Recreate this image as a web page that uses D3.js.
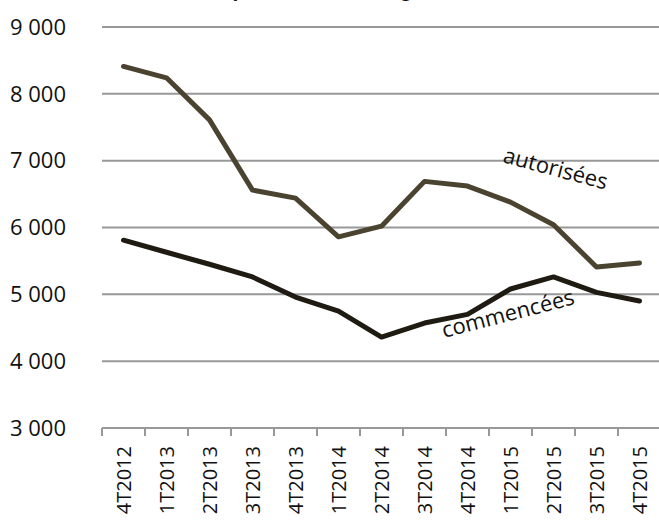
<!DOCTYPE html>
<meta charset="utf-8">
<style>
body { margin: 0; background: #fff; }
text { font-family: "Open Sans", "Noto Sans", sans-serif; fill: #111; }
</style>
<body>
<div id="chart"></div>
<script src="https://d3js.org/d3.v7.min.js"></script>
<script>
var quarters = ["4T2012", "1T2013", "2T2013", "3T2013", "4T2013", "1T2014", "2T2014",
                "3T2014", "4T2014", "1T2015", "2T2015", "3T2015", "4T2015"];
var autorisees = [8410, 8240, 7610, 6560, 6440, 5860, 6020, 6690, 6620, 6380, 6040, 5410, 5470];
var commencees = [5810, 5630, 5450, 5260, 4960, 4750, 4360, 4570, 4700, 5080, 5260, 5030, 4900];
var yTicks = [3000, 4000, 5000, 6000, 7000, 8000, 9000];

var width = 659, height = 523;

var svg = d3.select("#chart").append("svg")
    .attr("width", width)
    .attr("height", height);

var x = d3.scaleBand()
    .domain(quarters)
    .range([102, 661]);

var y = d3.scaleLinear()
    .domain([3000, 9000])
    .range([428, 27]);

var fmt = function(d) { return d3.format(",")(d).replace(",", " "); };

// title, mostly cut off at the top edge
svg.append("text")
    .attr("x", 132)
    .attr("y", -3)
    .style("font-size", "18px")
    .text("Nombre moyen trimestriel de logements");

// gridlines
svg.selectAll(".grid")
    .data(yTicks.filter(function(d) { return d > 3000; }))
  .enter().append("line")
    .attr("x1", 102)
    .attr("x2", width)
    .attr("y1", function(d) { return y(d); })
    .attr("y2", function(d) { return y(d); })
    .attr("stroke", "#989898")
    .attr("stroke-width", 2);

// y labels
svg.selectAll(".ylab")
    .data(yTicks)
  .enter().append("text")
    .attr("x", 66)
    .attr("y", function(d) { return y(d); })
    .attr("dy", "0.35em")
    .attr("text-anchor", "end")
    .style("font-size", "22px")
    .text(fmt);

// x axis
var xAxis = svg.append("g")
    .attr("transform", "translate(0," + y(3000) + ")");
xAxis.append("line")
    .attr("x1", 102).attr("x2", width)
    .attr("stroke", "#989898").attr("stroke-width", 2);
xAxis.selectAll(".tick")
    .data(quarters)
  .enter().append("line")
    .attr("x1", function(d) { return x(d); })
    .attr("x2", function(d) { return x(d); })
    .attr("y1", 0).attr("y2", 8)
    .attr("stroke", "#989898").attr("stroke-width", 2);
xAxis.selectAll(".xlab")
    .data(quarters)
  .enter().append("text")
    .attr("transform", function(d) {
      return "translate(" + (x(d) + x.bandwidth() / 2) + ",18) rotate(-90)";
    })
    .attr("dy", "0.35em")
    .attr("text-anchor", "end")
    .style("font-size", "20px")
    .text(function(d) { return d; });

var line = d3.line()
    .x(function(d, i) { return x(quarters[i]) + x.bandwidth() / 2; })
    .y(function(d) { return y(d); });

svg.append("path")
    .datum(autorisees)
    .attr("d", line)
    .attr("fill", "none")
    .attr("stroke", "#4a4330")
    .attr("stroke-width", 5)
    .attr("stroke-linecap", "round")
    .attr("stroke-linejoin", "round");

svg.append("path")
    .datum(commencees)
    .attr("d", line)
    .attr("fill", "none")
    .attr("stroke", "#1f1b12")
    .attr("stroke-width", 5)
    .attr("stroke-linecap", "round")
    .attr("stroke-linejoin", "round");

svg.append("text")
    .attr("transform", "translate(502,162) rotate(15)")
    .style("font-size", "22px")
    .text("autorisées");

svg.append("text")
    .attr("transform", "translate(444,338) rotate(-14.5)")
    .style("font-size", "22px")
    .text("commencées");
</script>
</body>
